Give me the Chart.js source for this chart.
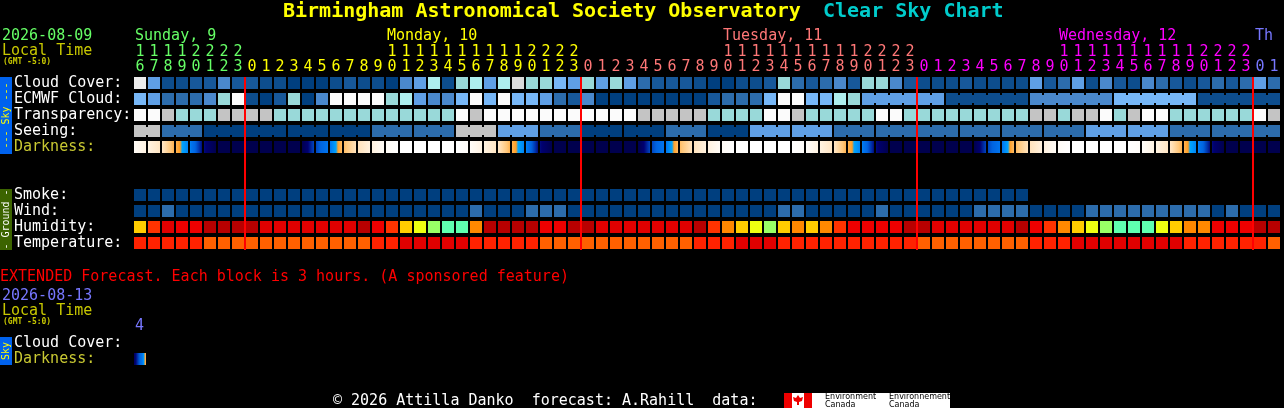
<!DOCTYPE html>
<html>
<head>
<meta charset="utf-8">
<script src="https://cdn.jsdelivr.net/npm/chart.js@4"></script>
<style>
  html, body { margin: 0; padding: 0; background: #000; overflow: hidden; }
  canvas { display: block; }
</style>
</head>
<body>
<canvas id="csc" width="1284" height="408"></canvas>
<script>
// hour of each block, left to right
const hours = [16,17,18,19,20,21,22,23,
  0,1,2,3,4,5,6,7,8,9,10,11,12,13,14,15,16,17,18,19,20,21,22,23,
  0,1,2,3,4,5,6,7,8,9,10,11,12,13,14,15,16,17,18,19,20,21,22,23,
  0,1,2,3,4,5,6,7,8,9,10,11,12,13,14,15,16,17,18,19,20,21,22,23,
  0,1];
const midnights = [8, 32, 56, 80];

// sky levels are indexes into skyPalette
const skyPalette = ['#003f7f','#0d4d8d','#17589a','#2c6cac','#4a88cc','#5f9fe5','#77b7f7','#99d9d9','#aeeeee','#c4c4c4','#dadada','#ececec','#fbfbfb'];
const cloudCover = [11,5,1,1,2,2,4,2,2,1,1,0,0,0,1,2,1,1,0,4,5,8,1,7,8,5,8,10,7,7,6,5,7,5,7,5,3,2,2,2,1,0,0,1,1,2,7,3,2,3,4,2,7,7,4,2,1,1,1,2,1,1,1,1,5,2,3,5,1,4,2,1,4,3,2,1,2,3,2,3,5,3];
const ecmwfHourly = [6,5,3,3,3,4,7,12,1,0,2,7,0,4,12,12,12,12,7,8,5,4,4,6,12,6,12,6,6,5,3,2,4,0,0,0,0,0,0,0,0,2,3,3,3,6,12,12,6,6,8,7];
const ecmwfBlocks = [5,1,4,6,1]; // 6 blocks each after the hourly part
const transparency = [12,12,9,7,7,7,9,9,9,9,7,7,7,7,7,7,7,7,7,7,7,7,7,12,9,12,12,12,12,12,12,12,12,12,12,12,9,9,9,9,9,7,7,7,7,12,12,9,7,7,7,7,7,12,12,7,7,7,7,7,7,7,7,7,9,9,7,9,9,12,7,9,12,12,7,7,7,7,7,7,12,9];
const seeingBlocks = [9,3,0,0,0,0,3,3,9,5,3,0,0,3,0,5,5,3,3,3,3,3,3,5,5,3,3,3];
const seeingSizes = [2,3,3,3,3,3,3,3,3,3,3,3,3,3,3,3,3,3,3,3,3,3,3,3,3,3,3,2];

// darkness at the block edges: 0 is full day, 9 is full night
const darknessEdges = [0.3,1,1.8,3.4,4.7,7.6,9,9,9,9,9,9,9,6.6,5,3.2,2,1.1,0.3,0,0,0,0,0,
  0.2,1,1.8,3.4,4.7,7.6,9,9,9,9,9,9,9,6.6,5,3.2,2,1.1,0.3,0,0,0,0,0,
  0.2,1,1.8,3.4,4.7,7.6,9,9,9,9,9,9,9,6.6,5,3.2,2,1.1,0.3,0,0,0,0,0,
  0.2,1,1.8,3.4,4.7,7.6,9,9,9,9,9,9];
const darknessStops = [[0,'#ffffff'],[1,'#fff3e2'],[2,'#ffe2bc'],[3,'#ffc678'],[3.9,'#ff9a1e'],[4,'#00a8ff'],[5,'#0074ee'],[6,'#0064e0'],[7,'#0030a8'],[7.8,'#000070'],[9,'#00004e']];
const extendedDarkness = [8.5, 3.3];

const smoke = new Array(64).fill(0);
const wind = [0,0,3,0,0,0,0,0,0,0,0,0,0,0,0,0,0,0,0,0,0,0,0,0,3,0,0,0,3,3,3,0,0,0,0,0,0,0,0,0,0,0,0,0,0,0,3,3,0,0,0,0,0,3,0,0,0,0,0,0,3,3,3,3,0,0,0,0,3,3,3,3,3,3,3,3,3,0,3,0,0,0];
const humidityPalette = ['#b80000','#e00000','#ee0000','#ff3300','#ff8800','#ffcc00','#eeff11','#99ff66','#5fffb0'];
const humidity = [5,3,1,2,2,0,0,0,0,1,1,1,1,1,1,1,0,2,3,5,6,7,8,8,4,0,0,0,0,2,2,0,0,1,1,1,1,1,1,1,0,3,4,5,6,7,5,4,5,4,3,2,2,2,2,0,0,1,1,1,1,1,1,0,2,3,4,5,6,7,8,8,8,6,5,4,4,2,2,2,0,0];
const tempPalette = ['#e00000','#ff2200','#ff6000'];
const temperature = [1,1,1,1,1,2,2,2,2,2,2,2,2,2,2,2,2,1,1,0,0,0,0,0,1,1,1,1,1,2,2,2,2,2,2,2,2,2,2,2,1,1,1,0,0,0,1,1,1,1,1,1,1,1,1,1,2,2,2,2,2,2,2,2,1,1,1,0,0,0,0,0,0,0,0,1,1,1,1,1,1,2];

const rowLabels = [
  ['Cloud Cover:', 0], ['ECMWF Cloud:', 1], ['Transparency:', 2], ['Seeing:', 3], ['Darkness:', 4],
  ['Smoke:', 7], ['Wind:', 8], ['Humidity:', 9], ['Temperature:', 10],
  ['Cloud Cover:', 16.25], ['Darkness:', 17.25]
];

const green = '#66ff66', yellow = '#ffff00', salmon = '#ff7777', magenta = '#ff00ff', violet = '#7777ff';
const khaki = '#c8c832';

const hourColor = i => i < 8 ? green : i < 32 ? yellow : i < 56 ? salmon : i < 80 ? magenta : violet;

// expand per block values to one value per hour cell
const expand = (blocks, sizes) => blocks.flatMap((v, i) => new Array(sizes[i]).fill(v));
const ecmwf = ecmwfHourly.concat(expand(ecmwfBlocks, [6,6,6,6,6]));
const seeing = expand(seeingBlocks, seeingSizes);

const cellRow = (values, row, palette) => ({
  data: values.map((v, i) => ({ x: i, y: [row - 0.375, row + 0.375] })),
  backgroundColor: values.map(v => palette[v]),
  barThickness: 12
});

// the necks that tie the hours of one forecast block together
const neckRow = (sizes, values, row, start) => {
  const data = [], colors = [];
  let at = start;
  sizes.forEach((size, b) => {
    for (let k = 0; k < size - 1; k++) {
      data.push({ x: at + k + 0.5, y: [row - 0.25, row + 0.25] });
      colors.push(skyPalette[values[b]]);
    }
    at += size;
  });
  return { data: data, backgroundColor: colors, barThickness: 2 };
};

const hexRgb = h => [1, 3, 5].map(p => parseInt(h.substr(p, 2), 16));
const darkColor = v => {
  let k = 0;
  while (k < darknessStops.length - 2 && v > darknessStops[k + 1][0]) k++;
  const [a, ca] = darknessStops[k], [b, cb] = darknessStops[k + 1];
  const t = Math.max(0, Math.min(1, (v - a) / (b - a)));
  const c1 = hexRgb(ca), c2 = hexRgb(cb);
  return 'rgb(' + c1.map((c, j) => Math.round(c + (c2[j] - c) * t)).join(',') + ')';
};
const darkFill = edges => c => {
  if (c.type !== 'data') return '#000';
  const from = edges[c.dataIndex], to = edges[c.dataIndex + 1];
  const mid = c.chart.scales.x.getPixelForValue(c.dataIndex);
  if (!isFinite(mid)) return '#000';
  const g = c.chart.ctx.createLinearGradient(mid - 6, 0, mid + 6, 0);
  for (let s = 0; s <= 12; s++) g.addColorStop(s / 12, darkColor(from + (to - from) * s / 12));
  return g;
};
const darkRow = (edges, row) => ({
  data: edges.slice(1).map((e, i) => ({ x: i, y: [row - 0.375, row + 0.375] })),
  backgroundColor: darkFill(edges),
  barThickness: 12
});

// page text, side bands and the midnight lines
const textItems = [
  ['Birmingham Astronomical Society Observatory', 283, 12, yellow, 'bold 20px'],
  ['Clear Sky Chart', 823, 12, '#00cccc', 'bold 20px'],
  ['2026-08-09', 2, 36, green], ['Local Time', 2, 51, '#c8c800'], ['(GMT -5:0)', 3, 62, '#c8c800', 'bold 8px'],
  ['Sunday, 9', 135, 36, green], ['Monday, 10', 387, 36, yellow], ['Tuesday, 11', 723, 36, salmon],
  ['Wednesday, 12', 1059, 36, magenta], ['Th', 1255, 36, violet],
  ['EXTENDED Forecast. Each block is 3 hours. (A sponsored feature)', 0, 277, '#ff0000'],
  ['2026-08-13', 2, 296, violet], ['Local Time', 2, 311, '#c8c800'], ['(GMT -5:0)', 3, 322, '#c8c800', 'bold 8px'],
  ['4', 135, 326, violet],
  ['\u00a9 2026 Attilla Danko  forecast: A.Rahill  data:', 333, 401, '#ffffff']
];
const sideBands = [
  ['--- Sky ---', 77, 77, '#0062ee', '#ffff00'],
  ['- Ground -', 189, 61, '#3c6400', '#ffffff'],
  ['Sky', 337, 28, '#0062ee', '#ffff00']
];

const decorations = {
  id: 'decorations',
  afterDraw(chart) {
    const c = chart.ctx, x = chart.scales.x;
    c.save();
    c.textBaseline = 'middle';
    textItems.forEach(([t, px, py, color, font]) => {
      c.font = (font || '15px') + ' "DejaVu Sans Mono"';
      c.fillStyle = color;
      c.textAlign = 'left';
      c.fillText(t, px, py);
    });
    sideBands.forEach(([t, top, h, bg, fg]) => {
      c.fillStyle = bg;
      c.fillRect(0, top, 12, h);
      c.save();
      c.translate(6, top + h / 2);
      c.rotate(-Math.PI / 2);
      c.textAlign = 'center';
      c.font = '10px "DejaVu Sans Mono"';
      c.fillStyle = fg;
      c.fillText(t, 0, 0);
      c.restore();
    });
    c.fillStyle = '#ff0000';
    midnights.forEach(m => c.fillRect(x.getPixelForValue(m - 0.5) - 1, 77, 2, 173));
    // Environment Canada logo
    c.fillStyle = '#ffffff';
    c.fillRect(784, 393, 166, 15);
    c.fillStyle = '#ee0000';
    c.fillRect(784, 393, 8, 15);
    c.fillRect(804, 393, 8, 15);
    c.beginPath();
    [[798, 395], [800, 398], [803, 397], [802, 401], [799, 402], [799, 405], [797, 405], [797, 402], [794, 401], [793, 397], [796, 398]]
      .forEach(([a, b], i) => i ? c.lineTo(a, b) : c.moveTo(a, b));
    c.fill();
    c.fillStyle = '#000000';
    c.font = '8px "DejaVu Sans"';
    c.textAlign = 'left';
    c.fillText('Environment', 825, 397);
    c.fillText('Canada', 825, 405);
    c.fillText('Environnement', 889, 397);
    c.fillText('Canada', 889, 405);
    c.restore();
  }
};

new Chart(document.getElementById('csc'), {
  type: 'bar',
  data: {
    datasets: [
      cellRow(cloudCover, 0, skyPalette),
      cellRow(ecmwf, 1, skyPalette),
      neckRow([6,6,6,6,6], ecmwfBlocks, 1, 52),
      cellRow(transparency, 2, skyPalette),
      cellRow(seeing, 3, skyPalette),
      neckRow(seeingSizes, seeingBlocks, 3, 0),
      darkRow(darknessEdges, 4),
      cellRow(smoke, 7, skyPalette),
      cellRow(wind, 8, skyPalette),
      cellRow(humidity, 9, humidityPalette),
      cellRow(temperature, 10, tempPalette),
      darkRow(extendedDarkness, 17.25)
    ]
  },
  plugins: [decorations],
  options: {
    responsive: false,
    animation: false,
    devicePixelRatio: 1,
    events: [],
    layout: { padding: { left: 14, right: 3, top: 0, bottom: 0 } },
    plugins: { legend: { display: false }, tooltip: { enabled: false } },
    datasets: { bar: { grouped: false, borderWidth: 0, inflateAmount: 0 } },
    scales: {
      x: {
        type: 'linear',
        position: 'top',
        offset: false,
        min: -0.5,
        max: 81.5,
        grid: { display: false, drawTicks: false },
        border: { display: false },
        afterBuildTicks: s => { s.ticks = hours.map((h, i) => ({ value: i })); },
        afterFit: s => { s.height = 75; s.paddingLeft = 0; s.paddingRight = 0; },
        ticks: {
          autoSkip: false,
          maxRotation: 0,
          padding: 0,
          font: { family: 'DejaVu Sans Mono', size: 15, lineHeight: 1 },
          color: c => hourColor(c.index),
          callback: (v, i) => [hours[i] >= 10 ? String(Math.floor(hours[i] / 10)) : ' ', String(hours[i] % 10)]
        }
      },
      y: {
        type: 'linear',
        reverse: true,
        min: -0.5,
        max: 20.3125,
        grid: { display: false, drawTicks: false },
        border: { display: false },
        afterBuildTicks: s => { s.ticks = rowLabels.map(r => ({ value: r[1] })); },
        afterFit: s => { s.width = 119; s.paddingTop = 0; s.paddingBottom = 0; },
        ticks: {
          autoSkip: false,
          crossAlign: 'far',
          padding: 0,
          font: { family: 'DejaVu Sans Mono', size: 15 },
          color: c => rowLabels[c.index][0] === 'Darkness:' ? khaki : '#ffffff',
          callback: (v, i) => rowLabels[i][0]
        }
      }
    }
  }
});
</script>
</body>
</html>
